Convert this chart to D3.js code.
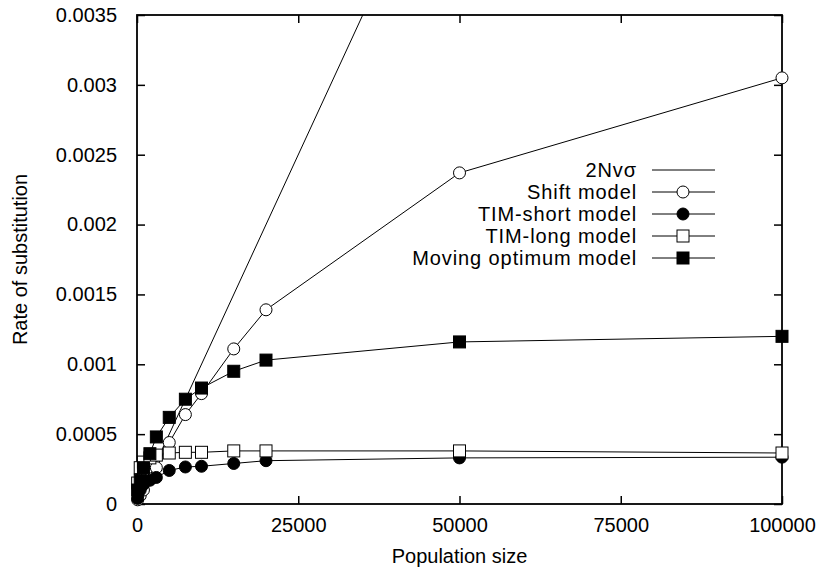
<!DOCTYPE html>
<html><head><meta charset="utf-8">
<script src="https://cdn.jsdelivr.net/npm/d3@7"></script>
<style>body{margin:0;background:#fff}svg{display:block}text{font-family:"Liberation Sans",Arial,Helvetica,sans-serif;fill:#000}</style>
</head><body>
<svg id="c" width="819" height="573"></svg>
<script>
const popSizes = [100, 500, 1000, 2000, 3000, 5000, 7500, 10000, 15000, 20000, 50000, 100000];
const shiftModel = [0.00003, 0.00006, 0.0001, 0.00018, 0.00026, 0.00044, 0.00064, 0.00079, 0.00111, 0.00139, 0.00237, 0.00305];
const timShort = [0.00004, 0.0001, 0.00014, 0.00017, 0.00019, 0.00024, 0.000265, 0.00027, 0.00029, 0.00031, 0.00033, 0.000335];
const timLong = [0.00015, 0.00026, 0.0003, 0.00033, 0.00035, 0.000365, 0.00037, 0.00037, 0.00038, 0.00038, 0.00038, 0.000365];
const movingOpt = [0.0001, 0.00017, 0.00026, 0.00036, 0.00048, 0.00062, 0.00075, 0.00083, 0.00095, 0.00103, 0.00116, 0.0012];
const neutralN = [0, 35000];
const neutralRate = [0, 0.0035];
const xTicks = [0, 25000, 50000, 75000, 100000];
const yTicks = [0, 0.0005, 0.001, 0.0015, 0.002, 0.0025, 0.003, 0.0035];
const legendLabels = ["2Nvσ", "Shift model", "TIM-short model", "TIM-long model", "Moving optimum model"];

const svg = d3.select("#c");
const L = 137, R = 782, T = 15, B = 504;
const x = d3.scaleLinear().domain([0, 100000]).range([L, R]);
const y = d3.scaleLinear().domain([0, 0.0035]).range([B, T]);

svg.append("clipPath").attr("id", "clip").append("rect")
  .attr("x", L).attr("y", T).attr("width", R - L).attr("height", B - T);

const fmtY = d => d === 0 ? "0" : String(+d.toFixed(4));
const gBottom = svg.append("g").attr("transform", `translate(0,${B})`)
  .call(d3.axisBottom(x).tickValues(xTicks).tickSize(-8).tickPadding(14).tickFormat(d => String(d)));
const gTop = svg.append("g").attr("transform", `translate(0,${T})`)
  .call(d3.axisTop(x).tickValues(xTicks).tickSize(-8).tickFormat(""));
const gLeft = svg.append("g").attr("transform", `translate(${L},0)`)
  .call(d3.axisLeft(y).tickValues(yTicks).tickSize(-8).tickPadding(20).tickFormat(fmtY));
const gRight = svg.append("g").attr("transform", `translate(${R},0)`)
  .call(d3.axisRight(y).tickValues(yTicks).tickSize(-8).tickFormat(""));
[gBottom, gTop, gLeft, gRight].forEach(g => {
  g.select(".domain").remove();
  g.selectAll(".tick line").attr("stroke", "#000").attr("stroke-width", 1.5);
  g.selectAll(".tick text").attr("font-size", 20).style("font-family", "'Liberation Sans',Arial,sans-serif");
});
svg.append("rect").attr("x", L).attr("y", T).attr("width", R - L).attr("height", B - T)
  .attr("fill", "none").attr("stroke", "#000").attr("stroke-width", 1.8);

svg.append("text").attr("x", (L + R) / 2).attr("y", 563).attr("text-anchor", "middle")
  .attr("font-size", 20).text("Population size");
svg.append("text").attr("transform", `translate(27,${(T + B) / 2}) rotate(-90)`)
  .attr("text-anchor", "middle").attr("font-size", 20).text("Rate of substitution");

const plot = svg.append("g").attr("clip-path", "url(#clip)");
const line = d3.line().x(d => x(d[0])).y(d => y(d[1]));

plot.append("path").datum(neutralN.map((n, i) => [n, neutralRate[i]]))
  .attr("d", line).attr("fill", "none").attr("stroke", "#000").attr("stroke-width", 1);

const series = [
  {vals: shiftModel, marker: "circle", fill: "#fff"},
  {vals: timShort, marker: "circle", fill: "#000"},
  {vals: timLong, marker: "square", fill: "#fff"},
  {vals: movingOpt, marker: "square", fill: "#000"}
];
const mg = svg.append("g");
function drawMarker(g, s, cx, cy) {
  if (s.marker === "circle") {
    g.append("circle").attr("cx", cx).attr("cy", cy).attr("r", 6)
      .attr("fill", s.fill).attr("stroke", "#000").attr("stroke-width", 1);
  } else {
    g.append("rect").attr("x", cx - 6).attr("y", cy - 6).attr("width", 12).attr("height", 12)
      .attr("fill", s.fill).attr("stroke", "#000").attr("stroke-width", 1);
  }
}
series.forEach(s => {
  const pts = popSizes.map((n, i) => [n, s.vals[i]]);
  plot.append("path").datum(pts).attr("d", line).attr("fill", "none")
    .attr("stroke", "#000").attr("stroke-width", 1);
});
series.forEach(s => {
  popSizes.forEach((n, i) => drawMarker(mg, s, x(n), y(s.vals[i])));
});

const lg = svg.append("g");
legendLabels.forEach((lab, i) => {
  const cy = 170 + i * 22;
  lg.append("text").attr("x", 637).attr("y", cy + 7).attr("text-anchor", "end")
    .attr("font-size", 20).attr("letter-spacing", 0.9).text(lab);
  lg.append("line").attr("x1", 652).attr("x2", 715).attr("y1", cy).attr("y2", cy)
    .attr("stroke", "#000").attr("stroke-width", 1);
  if (i > 0) drawMarker(lg, series[i - 1], 683, cy);
});
</script>
</body></html>
